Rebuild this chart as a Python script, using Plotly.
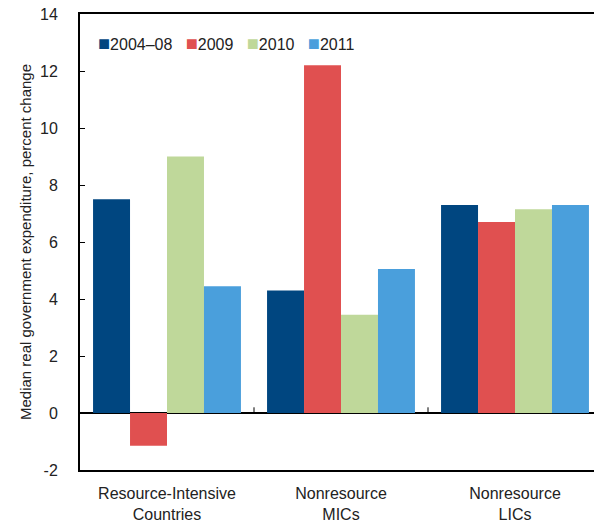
import plotly.graph_objects as go

categories = ["Resource-Intensive<br>Countries", "Nonresource<br>MICs", "Nonresource<br>LICs"]
series_names = ["2004\u201308", "2009", "2010", "2011"]
values_2004_08 = [7.5, 4.3, 7.3]
values_2009 = [-1.15, 12.2, 6.7]
values_2010 = [9.0, 3.45, 7.15]
values_2011 = [4.45, 5.05, 7.3]
y_ticks = [-2, 0, 2, 4, 6, 8, 10, 12, 14]
y_ticklabels = ["-2", "0", "2", "4", "6", "8", "10", "12", "14"]

colors = ["#004680", "#e05050", "#bfd89a", "#4a9fdc"]
font = "Liberation Sans, Arial, sans-serif"

fig = go.Figure()
for name, vals, col in zip(series_names,
                           [values_2004_08, values_2009, values_2010, values_2011],
                           colors):
    fig.add_trace(go.Bar(x=categories, y=vals, name=name, marker_color=col,
                         marker_line_width=0, showlegend=False))

# small tick marks on the zero line between categories
for xb in [0.5, 1.5]:
    fig.add_shape(type="line", xref="x", yref="y", x0=xb, x1=xb, y0=0, y1=0.2,
                  line=dict(color="black", width=1))

# legend drawn as a single line of text: coloured squares + labels
legend_text = "&nbsp;&nbsp;&nbsp;".join(
    f"<span style='color:{c};font-size:20px'>\u25a0</span>{n}"
    for n, c in zip(series_names, colors))
fig.add_annotation(text=legend_text, xref="paper", yref="paper", x=0.03, y=0.936,
                   xanchor="left", yanchor="middle", showarrow=False,
                   font=dict(size=16, color="#222"))

# page body has an 8px margin, so the figure is sized/offset to compensate
fig.update_layout(
    width=594, height=515,
    margin=dict(l=72, r=0, t=6, b=53),
    plot_bgcolor="white", paper_bgcolor="white",
    font=dict(family=font, size=15, color="#222"),
    barmode="group", bargap=0.15, bargroupgap=0,
    showlegend=False,
)
fig.update_xaxes(showline=True, linecolor="black", linewidth=2, mirror=True,
                 ticks="", showgrid=False, zeroline=False, automargin=False,
                 ticklabelstandoff=8, tickfont=dict(size=16))
fig.update_yaxes(range=[-2, 14], tickvals=y_ticks, ticktext=y_ticklabels,
                 showline=True, linecolor="black",
                 linewidth=2, ticks="inside", ticklen=5, tickcolor="black",
                 ticklabelstandoff=17, tickfont=dict(size=16), automargin=False,
                 ticklabeloverflow="allow",
                 showgrid=False, zeroline=True, zerolinecolor="black", zerolinewidth=1.5,
                 title=dict(text="Median real government expenditure, percent change",
                            font=dict(size=15), standoff=5))

fig.write_html("out.html")
